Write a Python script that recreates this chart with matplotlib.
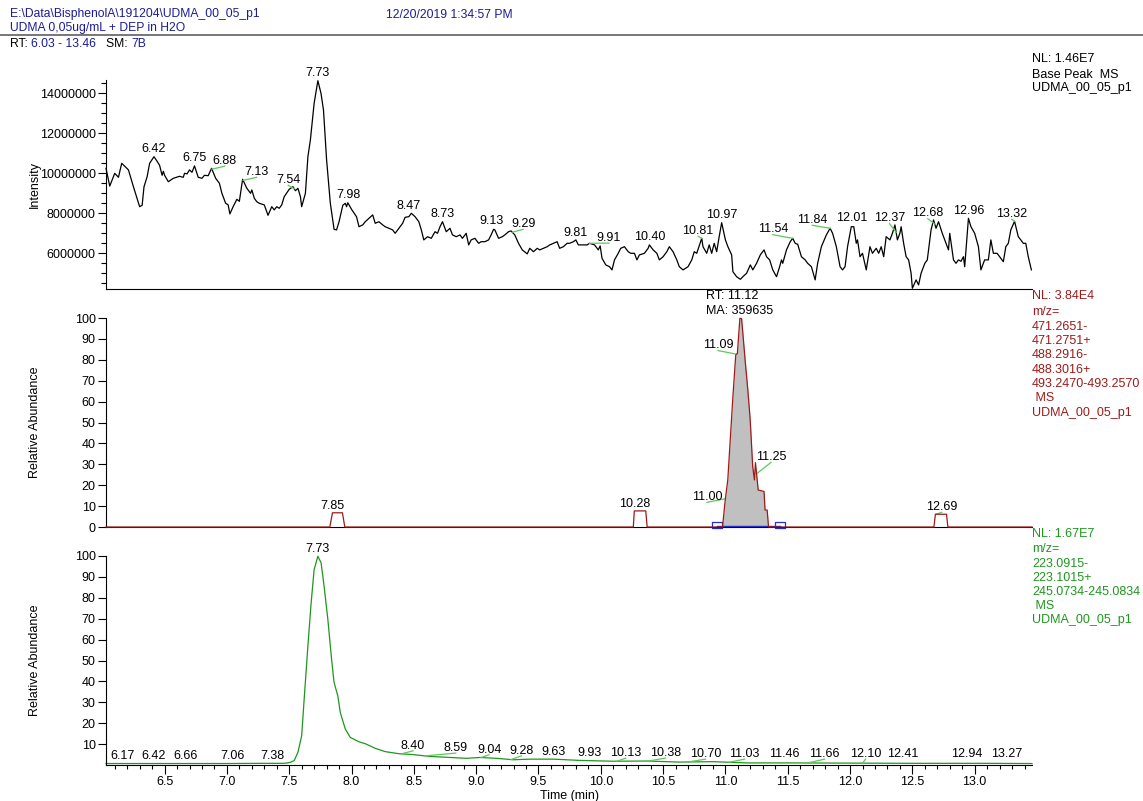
import matplotlib.pyplot as plt
import numpy as np

plt.rcParams['font.family'] = ['Liberation Sans', 'DejaVu Sans']

# ---- Painel 1: Base Peak (intensidade em milhoes) ----
bp_tempo = [6.03, 6.06, 6.10, 6.13, 6.156, 6.21, 6.25, 6.30, 6.32, 6.335, 6.36, 6.38, 6.415,
            6.44, 6.46, 6.48, 6.49, 6.50, 6.53, 6.57, 6.62, 6.65, 6.66, 6.68, 6.70, 6.72, 6.74,
            6.77, 6.80, 6.82, 6.85, 6.877, 6.91, 6.94, 6.96, 6.99, 7.01, 7.024, 7.05, 7.08, 7.10,
            7.126, 7.16, 7.19, 7.20, 7.22, 7.24, 7.26, 7.30, 7.33, 7.36, 7.38, 7.40, 7.42, 7.44,
            7.46, 7.50, 7.53, 7.55, 7.57, 7.59, 7.60, 7.63, 7.65, 7.67, 7.70, 7.73, 7.755, 7.775,
            7.80, 7.83, 7.86, 7.88, 7.90, 7.93, 7.95, 7.96, 7.97, 8.00, 8.04, 8.06, 8.09, 8.11,
            8.14, 8.17, 8.19, 8.22, 8.25, 8.27, 8.30, 8.33, 8.35, 8.38, 8.41, 8.43, 8.46, 8.48,
            8.51, 8.54, 8.56, 8.58, 8.61, 8.64, 8.67, 8.69, 8.71, 8.73, 8.76, 8.79, 8.81, 8.84,
            8.87, 8.89, 8.92, 8.94, 8.96, 8.99, 9.02, 9.04, 9.07, 9.10, 9.12, 9.14, 9.15, 9.18,
            9.21, 9.23, 9.26, 9.28, 9.31, 9.34, 9.37, 9.41, 9.43, 9.46, 9.49, 9.51, 9.54, 9.57,
            9.59, 9.62, 9.65, 9.67, 9.70, 9.73, 9.75, 9.78, 9.80, 9.82, 9.85, 9.89, 9.91, 9.95,
            9.98, 9.995, 10.01, 10.04, 10.07, 10.09, 10.11, 10.14, 10.16, 10.19, 10.22, 10.24,
            10.27, 10.29, 10.31, 10.35, 10.38, 10.39, 10.42, 10.45, 10.47, 10.50, 10.53, 10.55,
            10.58, 10.61, 10.63, 10.66, 10.70, 10.73, 10.75, 10.77, 10.81, 10.82, 10.85, 10.87,
            10.89, 10.91, 10.93, 10.95, 10.97, 11.00, 11.02, 11.05, 11.06, 11.09, 11.12, 11.14,
            11.17, 11.20, 11.22, 11.25, 11.28, 11.31, 11.33, 11.355, 11.38, 11.41, 11.435, 11.45,
            11.46, 11.49, 11.52, 11.54, 11.56, 11.58, 11.61, 11.64, 11.66, 11.69, 11.72, 11.74,
            11.77, 11.81, 11.84, 11.86, 11.89, 11.92, 11.94, 11.96, 11.98, 12.01, 12.03, 12.05,
            12.06, 12.08, 12.10, 12.13, 12.16, 12.18, 12.21, 12.23, 12.25, 12.27, 12.29, 12.32,
            12.34, 12.36, 12.38, 12.40, 12.41, 12.43, 12.45, 12.47, 12.49, 12.50, 12.53, 12.55,
            12.57, 12.60, 12.62, 12.65, 12.67, 12.69, 12.71, 12.74, 12.76, 12.79, 12.80, 12.83,
            12.85, 12.87, 12.89, 12.91, 12.92, 12.95, 12.97, 13.00, 13.03, 13.05, 13.08, 13.11,
            13.13, 13.15, 13.18, 13.20, 13.23, 13.25, 13.27, 13.29, 13.32, 13.35, 13.37, 13.39,
            13.41, 13.43, 13.455]
bp_int = [10.25, 9.36, 10.0, 9.8, 10.5, 10.17, 9.33, 8.33, 8.4, 9.33, 9.83, 10.5, 10.83,
          10.6, 10.4, 9.9, 10.1, 9.9, 9.58, 9.75, 9.85, 9.8, 10.0, 9.97, 10.17, 10.05, 10.37,
          9.8, 9.75, 9.9, 9.88, 10.25, 9.75, 9.5, 9.0, 8.5, 8.42, 7.97, 8.33, 8.7, 8.6,
          9.7, 9.25, 9.0, 9.17, 8.75, 8.58, 8.5, 8.42, 7.9, 8.33, 8.17, 8.33, 8.25, 8.42,
          8.83, 9.2, 9.33, 9.13, 9.25, 8.83, 8.33, 9.0, 10.83, 11.67, 13.5, 14.63, 14.0, 13.17,
          10.67, 8.5, 7.2, 7.17, 7.58, 8.4, 8.5, 8.33, 8.53, 8.2, 7.83, 7.33, 7.42, 7.58,
          7.75, 7.92, 7.5, 7.58, 7.42, 7.33, 7.25, 7.17, 7.0, 7.25, 7.5, 7.8, 7.83, 8.0,
          7.83, 7.58, 7.17, 6.67, 6.83, 6.75, 7.08, 7.0, 7.33, 7.58, 7.08, 7.25, 6.92, 6.83,
          6.92, 6.75, 7.0, 6.42, 6.67, 6.75, 6.5, 6.58, 6.58, 6.67, 6.92, 7.2, 7.17, 6.75,
          6.83, 6.92, 7.08, 7.12, 6.92, 6.5, 6.17, 5.97, 6.25, 6.08, 6.25, 6.17, 6.25, 6.33,
          6.42, 6.5, 6.58, 6.25, 6.33, 6.5, 6.5, 6.58, 6.67, 6.42, 6.42, 6.42, 6.5, 6.42,
          6.17, 6.37, 5.75, 5.42, 5.33, 5.17, 5.67, 6.0, 6.25, 6.33, 6.08, 6.0,
          6.0, 5.67, 5.92, 6.0, 6.25, 6.42, 6.17, 6.0, 5.67, 5.83, 6.08, 6.33,
          6.08, 5.67, 5.33, 5.17, 5.33, 5.67, 6.08, 6.0, 6.75, 6.33, 6.0, 6.42,
          6.0, 6.5, 6.08, 6.83, 7.53, 6.67, 6.33, 5.92, 5.08, 4.83, 4.7, 4.83,
          5.0, 5.42, 5.17, 5.5, 5.92, 6.17, 5.83, 5.67, 5.17, 4.83, 5.33, 5.67,
          5.5, 6.17, 6.58, 6.75, 6.5, 6.45, 5.83, 5.67, 5.5, 5.33, 4.67, 5.5,
          6.33, 6.92, 7.25, 7.0, 6.33, 5.33, 5.17, 5.33, 6.33, 7.33, 7.33, 6.5,
          6.67, 5.83, 6.0, 5.17, 6.33, 6.0, 6.25, 6.0, 6.33, 5.83, 6.83, 6.67,
          7.0, 7.42, 6.67, 7.0, 7.33, 6.5, 5.83, 5.67, 5.0, 4.25, 4.67, 4.42,
          5.0, 5.5, 5.67, 7.17, 7.67, 7.25, 7.58, 7.0, 6.67, 6.17, 7.0, 5.67,
          5.5, 5.67, 5.6, 5.83, 5.33, 7.75, 7.33, 7.0, 6.33, 5.17, 5.67, 5.67,
          6.67, 6.0, 6.0, 5.83, 5.58, 6.33, 6.5, 7.17, 7.6, 6.83, 6.67, 6.5,
          6.5, 5.83, 5.17]
bp_rotulos = ['6.42', '6.75', '6.88', '7.13', '7.54', '7.73', '7.98', '8.47', '8.73', '9.13',
              '9.29', '9.81', '9.91', '10.40', '10.81', '10.97', '11.54', '11.84', '12.01',
              '12.37', '12.68', '12.96', '13.32']
bp_rot_x = [6.415, 6.744, 6.984, 7.238, 7.492, 7.725, 7.973, 8.462, 8.727, 9.123,
            9.377, 9.796, 10.066, 10.393, 10.78, 10.967, 11.38, 11.697, 12.01,
            12.317, 12.624, 12.95, 13.298]
bp_rot_y = [11.2, 10.75, 10.63, 10.07, 9.67, 15.0, 8.92, 8.37, 7.97, 7.62,
            7.47, 7.0, 6.78, 6.8, 7.12, 7.92, 7.2, 7.67, 7.75,
            7.75, 8.0, 8.13, 7.97]

# ---- Painel 2: XIC UDMA (abundancia relativa) ----
xic_tempo = [6.03, 7.826, 7.847, 7.927, 7.946, 10.261, 10.269, 10.361, 10.372, 10.977, 10.997,
             11.019, 11.060, 11.083, 11.096, 11.116, 11.13, 11.158, 11.18, 11.199, 11.219,
             11.233, 11.241, 11.255, 11.263, 11.31, 11.318, 11.335, 11.346, 12.673, 12.685,
             12.774, 12.785, 13.46]
xic_abund = [0, 0, 6.8, 6.8, 0, 0, 7.7, 7.7, 0, 0, 12.1,
             22.5, 62.3, 82.3, 83.0, 99.8, 99.7, 80.0, 65.5, 51.2, 28.9,
             22.5, 30.8, 22.5, 17.7, 17.0, 8.1, 8.1, 0, 0, 6.1,
             6.1, 0, 0]
xic_rotulos = ['7.85', '10.28', '11.00', '11.09', '11.25', '12.69']
xic_rot_x = [7.845, 10.269, 10.852, 10.941, 11.366, 12.735]
xic_rot_y = [10.0, 11.0, 14.5, 87.1, 33.6, 9.7]
xic_pico_ini, xic_pico_fim = 10.977, 11.346
xic_base = [10.933, 11.435]

# ---- Painel 3: XIC DEP (abundancia relativa) ----
dep_tempo = [6.03, 6.5, 7.0, 7.3, 7.45, 7.48, 7.51, 7.54, 7.57, 7.60, 7.62, 7.65, 7.676,
             7.70, 7.73, 7.756, 7.78, 7.81, 7.84, 7.86, 7.89, 7.91, 7.95, 7.99, 8.06, 8.11,
             8.19, 8.27, 8.38, 8.49, 8.63, 8.76, 8.92, 9.03, 9.16, 9.30, 9.43, 9.62, 9.83,
             10.10, 10.37, 10.63, 10.90, 11.17, 11.5, 12.0, 12.5, 13.0, 13.46]
dep_abund = [0.7, 0.7, 0.7, 0.8, 0.8, 0.9, 1.3, 2.1, 6.1, 14.0, 31.5, 57.0, 77.6,
             93.5, 99.9, 96.7, 85.5, 69.7, 50.6, 39.5, 33.1, 25.1, 17.2, 13.2, 11.1, 10.2,
             8.0, 6.4, 5.4, 5.0, 4.1, 3.7, 3.2, 3.6, 3.2, 2.5, 2.8, 2.8, 2.2,
             1.8, 1.9, 1.4, 1.6, 1.0, 1.0, 0.9, 0.8, 0.8, 0.7]
dep_rotulos = ['7.73', '6.17', '6.42', '6.66', '7.06', '7.38', '8.40', '8.59', '9.04', '9.28',
               '9.63', '9.93', '10.13', '10.38', '10.70', '11.03', '11.46', '11.66', '12.10',
               '12.41', '12.94', '13.27']
dep_rot_x = [7.725, 6.166, 6.415, 6.672, 7.048, 7.369, 8.494, 8.837, 9.104, 9.364,
             9.623, 9.911, 10.20, 10.518, 10.841, 11.154, 11.475, 11.796, 12.125,
             12.421, 12.935, 13.255]
dep_rot_y = [103.5, 4.15, 4.15, 4.15, 4.15, 4.15, 9.2, 8.1, 7.3, 6.8,
             6.3, 5.7, 5.7, 5.7, 5.2, 5.2, 5.2, 5.2, 5.2,
             5.2, 5.2, 5.2]

# cores do Xcalibur
azul_cab = '#1c1c96'
vermelho = '#9e1a1a'
verde = '#1f961f'
verde_claro = '#5cc85c'

fs = 9      # tamanho das marcas e rotulos
fs_cab = 8.7

fig = plt.figure(figsize=(11.43, 8.01), dpi=100)
W, H = 1143.0, 801.0
esq, larg = 106 / W, 926 / W
alt = 209 / H
ax1 = fig.add_axes([esq, 1 - 289 / H, larg, alt])
ax2 = fig.add_axes([esq, 1 - 527 / H, larg, alt])
ax3 = fig.add_axes([esq, 1 - 765 / H, larg, alt])

for ax in (ax1, ax2, ax3):
    ax.set_xlim(6.03, 13.46)
    ax.spines['top'].set_visible(False)
    ax.spines['right'].set_visible(False)
    ax.tick_params(axis='y', direction='out', length=6, width=0.8, pad=1.5, labelsize=fs)
    ax.tick_params(axis='y', which='minor', length=3.5, width=0.8)

# ---------- painel 1 ----------
ax1.plot(bp_tempo, np.array(bp_int) * 1e6, color='black', lw=0.9, clip_on=False)
ax1.set_ylim(4.215e6, 14.665e6)
ax1.set_yticks(np.arange(6e6, 14.01e6, 2e6))
ax1.set_yticklabels([str(int(v)) for v in np.arange(6e6, 14.01e6, 2e6)])
ax1.set_yticks(np.arange(4.5e6, 14.6e6, 0.5e6), minor=True)
ax1.set_xticks([])
for txt, x, y in zip(bp_rotulos, bp_rot_x, bp_rot_y):
    ax1.text(x, y * 1e6, txt, ha='center', va='center', fontsize=fs, clip_on=False)
    rt = float(txt)
    if abs(rt - x) > 0.02:
        ax1.plot([rt, x], [np.interp(rt, bp_tempo, bp_int) * 1e6, (y - 0.27) * 1e6],
                 color=verde_claro, lw=0.9, clip_on=False)

# ---------- painel 2 ----------
t2 = np.array(xic_tempo)
a2 = np.array(xic_abund)
faixa = (t2 >= xic_pico_ini) & (t2 <= xic_pico_fim)
ax2.fill_between(t2[faixa], 0, a2[faixa], color='#c0c0c0', lw=0)
ax2.plot(xic_base, [0.4, 0.4], color='#2030e0', lw=1.0, clip_on=False)
ret = [(-1, -0.55), (1, -0.55), (1, 0.55), (-1, 0.55), (-1, -0.55)]
ax2.plot(xic_base, [1.0, 1.0], ls='none', marker=ret, ms=7, mfc='none', mec='#2030e0',
         mew=0.9, clip_on=False)
ax2.plot(t2, a2, color=vermelho, lw=0.9, clip_on=False, zorder=3)
ax2.set_ylim(0, 100)
ax2.set_yticks(range(0, 101, 10))
ax2.set_xticks([])
for txt, x, y in zip(xic_rotulos, xic_rot_x, xic_rot_y):
    ax2.text(x, y, txt, ha='center', va='center', fontsize=fs)
    rt = float(txt)
    if abs(rt - x) > 0.02:
        ax2.plot([rt, x], [np.interp(rt, xic_tempo, xic_abund), y - 2.7],
                 color=verde_claro, lw=0.9)
ax2.text(10.846, 110.5, 'RT: 11.12', ha='left', va='center', fontsize=fs, clip_on=False)
ax2.text(10.846, 103.3, 'MA: 359635', ha='left', va='center', fontsize=fs, clip_on=False)

# ---------- painel 3 ----------
ax3.plot(dep_tempo, dep_abund, color=verde, lw=0.9, clip_on=False)
ax3.set_ylim(0, 100)
ax3.set_yticks(range(10, 101, 10))
ax3.set_xticks(np.arange(6.5, 13.01, 0.5))
ax3.set_xticklabels(['%.1f' % v for v in np.arange(6.5, 13.01, 0.5)])
ax3.set_xticks(np.arange(6.1, 13.41, 0.1), minor=True)
ax3.tick_params(axis='x', direction='out', length=6.5, width=0.8, pad=1.5, labelsize=fs)
ax3.tick_params(axis='x', which='minor', length=3, width=0.8)
for txt, x, y in zip(dep_rotulos, dep_rot_x, dep_rot_y):
    ax3.text(x, y, txt, ha='center', va='center', fontsize=fs, clip_on=False)
    rt = float(txt)
    if abs(rt - x) > 0.02:
        ax3.plot([rt, x], [np.interp(rt, dep_tempo, dep_abund), y - 2.4],
                 color=verde_claro, lw=0.9)
ax3.set_xlabel('Time (min)', fontsize=fs, labelpad=1)

# rotulos dos eixos y
fig.text(35 / W, 1 - 184.5 / H, 'Intensity', rotation=90, ha='center', va='center', fontsize=fs)
fig.text(35 / W, 1 - 422.5 / H, 'Relative Abundance', rotation=90, ha='center', va='center', fontsize=fs)
fig.text(35 / W, 1 - 660.5 / H, 'Relative Abundance', rotation=90, ha='center', va='center', fontsize=fs)

# textos da direita
xd = 1032 / W
fig.text(xd, 1 - 58.5 / H, 'NL: 1.46E7', ha='left', va='center', fontsize=fs)
fig.text(xd, 1 - 74.5 / H, 'Base Peak  MS', ha='left', va='center', fontsize=fs)
fig.text(xd, 1 - 88.5 / H, 'UDMA_00_05_p1', ha='left', va='center', fontsize=fs)

linhas2 = ['m/z=', '471.2651-', '471.2751+', '488.2916-', '488.3016+', '493.2470-493.2570',
           ' MS', 'UDMA_00_05_p1']
fig.text(xd, 1 - 296 / H, 'NL: 3.84E4', ha='left', va='center', fontsize=fs, color=vermelho)
for i, s in enumerate(linhas2):
    fig.text(xd, 1 - (312.5 + i * 14.3) / H, s, ha='left', va='center', fontsize=fs, color=vermelho)

linhas3 = ['m/z=', '223.0915-', '223.1015+', '245.0734-245.0834', ' MS', 'UDMA_00_05_p1']
fig.text(xd, 1 - 534 / H, 'NL: 1.67E7', ha='left', va='center', fontsize=fs, color=verde)
for i, s in enumerate(linhas3):
    fig.text(xd, 1 - (549.5 + i * 14.2) / H, s, ha='left', va='center', fontsize=fs, color=verde)

# cabecalho
fig.text(10 / W, 1 - 14.5 / H, 'E:\\Data\\BisphenolA\\191204\\UDMA_00_05_p1', ha='left',
         va='center', fontsize=fs_cab, color=azul_cab)
fig.text(386 / W, 1 - 14.5 / H, '12/20/2019 1:34:57 PM', ha='left', va='center', fontsize=fs_cab,
         color=azul_cab)
fig.text(10 / W, 1 - 28 / H, 'UDMA 0,05ug/mL + DEP in H2O', ha='left', va='center',
         fontsize=fs_cab, color=azul_cab)
fig.add_artist(plt.Line2D([0, 1], [1 - 34.5 / H, 1 - 34.5 / H], color='#606060', lw=1.2))
t_rt = fig.text(10 / W, 1 - 44 / H, 'RT: ', ha='left', va='center', fontsize=fs_cab, color='black')
ann1 = plt.annotate('6.03 - 13.46   ', xycoords=t_rt, xy=(1, 0), va='bottom', fontsize=fs_cab,
                    color=azul_cab)
ann2 = plt.annotate('SM: ', xycoords=ann1, xy=(1, 0), va='bottom', fontsize=fs_cab, color='black')
plt.annotate('7B', xycoords=ann2, xy=(1, 0), va='bottom', fontsize=fs_cab, color=azul_cab)

plt.savefig('out.png', dpi=100)
